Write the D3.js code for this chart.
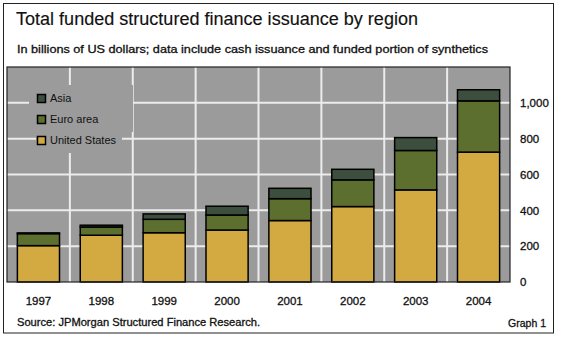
<!DOCTYPE html>
<html>
<head>
<meta charset="utf-8">
<script src="https://cdn.jsdelivr.net/npm/d3@7"></script>
<style>
  html, body { margin: 0; padding: 0; background: #fff; }
  svg { display: block; }
  text { font-family: "Liberation Sans", Arial, Helvetica, sans-serif; fill: #111; }
  .heavy { stroke: #111; stroke-width: 0.3px; }
</style>
</head>
<body>
<svg id="chart" width="561" height="337"></svg>
<script>
// Structured finance issuance, billions of US dollars
const years = ["1997", "1998", "1999", "2000", "2001", "2002", "2003", "2004"];
const unitedStates = [203, 261, 275, 290, 343, 421, 514, 725];
const euroArea = [67, 46, 75, 84, 122, 149, 220, 286];
const asia = [4, 10, 30, 49, 58, 59, 72, 62];
const yTicks = [0, 200, 400, 600, 800, 1000];
const seriesNames = ["United States", "Euro area", "Asia"];
const seriesColors = ["#d3aa42", "#5d6f2e", "#3c4e3e"];

const rows = years.map((y, i) => ({
  year: y,
  "United States": unitedStates[i],
  "Euro area": euroArea[i],
  "Asia": asia[i]
}));

const svg = d3.select("#chart");

// outer frame
svg.append("rect")
  .attr("x", 3.5).attr("y", 3.5).attr("width", 550).attr("height", 329.5)
  .attr("fill", "none").attr("stroke", "#222").attr("stroke-width", 1);

// title and subtitle
svg.append("text")
  .attr("x", 16).attr("y", 25)
  .attr("font-size", 17.5)
  .attr("textLength", 402).attr("lengthAdjust", "spacingAndGlyphs")
  .attr("stroke", "#111").attr("stroke-width", 0.15)
  .text("Total funded structured finance issuance by region");

svg.append("text")
  .attr("x", 17).attr("y", 53)
  .attr("font-size", 11)
  .attr("class", "heavy")
  .attr("textLength", 471).attr("lengthAdjust", "spacingAndGlyphs")
  .text("In billions of US dollars; data include cash issuance and funded portion of synthetics");

// plot area
const plot = { left: 7, right: 510, top: 67, bottom: 282 };

const x = d3.scaleBand()
  .domain(years)
  .range([plot.left, plot.right])
  .paddingInner(0.33)
  .paddingOuter(0.165);

const y = d3.scaleLinear()
  .domain([0, 1200])
  .range([plot.bottom, plot.top]);

svg.append("rect")
  .attr("x", plot.left).attr("y", plot.top)
  .attr("width", plot.right - plot.left).attr("height", plot.bottom - plot.top)
  .attr("fill", "#9b9b9b");

// gridlines
const grid = svg.append("g").attr("stroke", "#ececec").attr("stroke-width", 2);
grid.selectAll("line.h")
  .data(yTicks.filter(v => v > 0))
  .join("line")
  .attr("x1", plot.left).attr("x2", plot.right)
  .attr("y1", d => y(d)).attr("y2", d => y(d));

const step = x.step();
grid.selectAll("line.v")
  .data(years.slice(1))
  .join("line")
  .attr("x1", d => x(d) - step * x.paddingInner() / 2)
  .attr("x2", d => x(d) - step * x.paddingInner() / 2)
  .attr("y1", plot.top).attr("y2", plot.bottom);

// legend (its backing hides the gridlines behind it)
svg.append("rect").attr("x", 29).attr("y", 85).attr("width", 104).attr("height", 47).attr("fill", "#9b9b9b");
svg.append("rect").attr("x", 36).attr("y", 132).attr("width", 86).attr("height", 21).attr("fill", "#9b9b9b");

const legendItems = ["Asia", "Euro area", "United States"];
const legend = svg.append("g");
legendItems.forEach((name, i) => {
  const cy = 98.5 + i * 21;
  legend.append("rect")
    .attr("x", 37.5).attr("y", cy - 4).attr("width", 8).attr("height", 8)
    .attr("fill", seriesColors[seriesNames.indexOf(name)])
    .attr("stroke", "#000").attr("stroke-width", 1.5);
  legend.append("text")
    .attr("x", 50).attr("y", cy + 3.5)
    .attr("font-size", 11)
    .attr("fill", "#1a1a1a")
    .text(name);
});

// stacked bars
const stacked = d3.stack().keys(seriesNames)(rows);
svg.append("g")
  .selectAll("g")
  .data(stacked)
  .join("g")
  .attr("fill", (d, i) => seriesColors[i])
  .selectAll("rect")
  .data(d => d)
  .join("rect")
  .attr("x", d => x(d.data.year))
  .attr("width", x.bandwidth())
  .attr("y", d => y(d[1]))
  .attr("height", d => y(d[0]) - y(d[1]))
  .attr("stroke", "#000")
  .attr("stroke-width", 1.5);

// plot border
svg.append("rect")
  .attr("x", plot.left).attr("y", plot.top)
  .attr("width", plot.right - plot.left).attr("height", plot.bottom - plot.top)
  .attr("fill", "none").attr("stroke", "#222").attr("stroke-width", 1.2);

// x axis labels
const xAxis = svg.append("g")
  .attr("transform", `translate(0,${plot.bottom})`)
  .call(d3.axisBottom(x).tickSize(0).tickPadding(15));
xAxis.select(".domain").remove();
xAxis.selectAll("text")
  .attr("font-size", 11.5)
  .attr("font-family", "'Liberation Sans', Arial, sans-serif")
  .attr("class", "heavy")
  .attr("fill", "#111");

// y axis labels on the right
const yAxis = svg.append("g")
  .attr("transform", `translate(${plot.right},0)`)
  .call(d3.axisRight(y).tickValues(yTicks).tickSize(0).tickPadding(10)
    .tickFormat(d3.format(",")));
yAxis.select(".domain").remove();
yAxis.selectAll("text")
  .attr("font-size", 11.5)
  .attr("font-family", "'Liberation Sans', Arial, sans-serif")
  .attr("class", "heavy")
  .attr("fill", "#111");

// footer
svg.append("text")
  .attr("x", 17).attr("y", 326)
  .attr("font-size", 10.5)
  .attr("class", "heavy")
  .attr("textLength", 243).attr("lengthAdjust", "spacingAndGlyphs")
  .text("Source: JPMorgan Structured Finance Research.");

svg.append("text")
  .attr("x", 546).attr("y", 326.5)
  .attr("font-size", 10.5)
  .attr("class", "heavy")
  .attr("text-anchor", "end")
  .text("Graph 1");
</script>
</body>
</html>
